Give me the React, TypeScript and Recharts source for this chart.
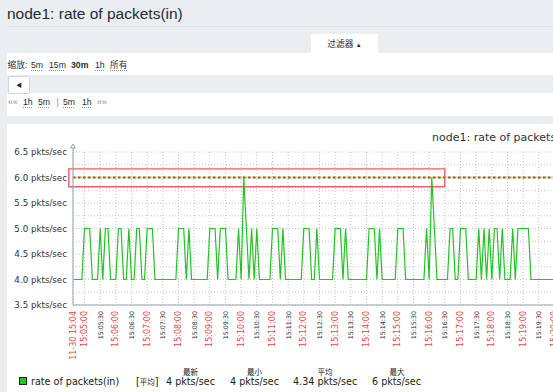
import React from 'react';
import { LineChart, Line, XAxis, YAxis, CartesianGrid, ReferenceLine, ReferenceArea, ReferenceDot } from 'recharts';

const toSec = (hms: string) => {
    const [h, m, s] = hms.split(':').map(Number);
    return h * 3600 + m * 60 + s;
};
const pad = (n: number) => String(n).padStart(2, '0');
const toHms = (sec: number) => `${pad(Math.floor(sec / 3600))}:${pad(Math.floor(sec / 60) % 60)}:${pad(sec % 60)}`;

// item is polled every 5 seconds
const SAMPLE_START = '15:04:40';
const SAMPLE_STEP = 5;

// rate of packets(in), pkts/sec
const PACKETS_IN = [
    4, 4, 4, 4, 5, 5, 5, 4, 4, 4,
    5, 4, 5, 5, 4, 4, 4, 5, 5, 4,
    4, 5, 4, 4, 5, 5, 4, 4, 5, 5,
    5, 4, 4, 4, 4, 4, 4, 4, 4, 4,
    5, 5, 5, 4, 5, 4, 4, 4, 4, 4,
    4, 4, 5, 5, 5, 4, 5, 5, 5, 4,
    4, 4, 4, 5, 4, 6, 5, 4, 5, 4,
    5, 4, 4, 4, 4, 4, 5, 5, 5, 4,
    5, 4, 4, 4, 4, 4, 4, 4, 5, 5,
    5, 4, 4, 5, 4, 4, 4, 4, 4, 4,
    5, 5, 5, 4, 5, 4, 4, 4, 4, 4,
    4, 4, 4, 5, 5, 5, 4, 5, 4, 4,
    4, 4, 4, 4, 5, 5, 5, 4, 4, 4,
    4, 4, 4, 4, 4, 5, 4, 6, 5, 4,
    4, 4, 4, 4, 5, 5, 4, 4, 5, 5,
    5, 4, 4, 4, 4, 5, 4, 5, 4, 5,
    4, 5, 5, 4, 5, 4, 4, 4, 5, 4,
    5, 5, 5, 5, 5, 4, 4, 4, 4, 4,
    4, 4, 4, 4, 4, 4,
];

const X_START = '15:04:38';
const X_END = '15:21:38';
const X_FIRST_LABEL = '11-30 15:04';
const X_TICKS = [
    '15:04:38',
    '15:05:00', '15:05:30', '15:06:00', '15:06:30', '15:07:00', '15:07:30',
    '15:08:00', '15:08:30', '15:09:00', '15:09:30', '15:10:00', '15:10:30',
    '15:11:00', '15:11:30', '15:12:00', '15:12:30', '15:13:00', '15:13:30',
    '15:14:00', '15:14:30', '15:15:00', '15:15:30', '15:16:00', '15:16:30',
    '15:17:00', '15:17:30', '15:18:00', '15:18:30', '15:19:00', '15:19:30',
    '15:20:00', '15:20:30', '15:21:00', '15:21:30',
];

const Y_TICKS = [3.5, 3.75, 4, 4.25, 4.5, 4.75, 5, 5.25, 5.5, 5.75, 6, 6.25, 6.5];
const Y_UNIT = 'pkts/sec';

const TRIGGER_VALUE = 6;
// hand-drawn red box around the trigger line
const MARK_X = ['15:04:30', '15:16:30'];
const MARK_Y = [5.82, 6.17];

const TITLE = 'node1: rate of packets(in)';
const ITEM_NAME = 'rate of packets(in)';
const ITEM_FUNC = '[平均]';
const STAT_HEADS = ['最新', '最小', '平均', '最大'];
const STAT_VALUES = ['4 pkts/sec', '4 pkts/sec', '4.34 pkts/sec', '6 pkts/sec'];

const data = PACKETS_IN.map((v, i) => ({ t: toSec(SAMPLE_START) + i * SAMPLE_STEP, v }));

const AXIS = '#9aa3ab';
const GRID = '#bfc7ce';
const RED = '#e8473f';
const CHART_FONT = '"DejaVu Sans", sans-serif';

const TimeTick = ({ x, y, payload }: any) => {
    const sec = payload.value;
    const first = sec === toSec(X_START);
    const major = first || sec % 60 === 0;
    return (
        <text
            x={x}
            y={y}
            transform={`rotate(-90 ${x} ${y})`}
            textAnchor="end"
            dominantBaseline="central"
            fontSize={major ? 8 : 6.3}
            fill={major ? RED : '#2a2a2a'}
            fontFamily={CHART_FONT}
        >
            {first ? X_FIRST_LABEL : toHms(sec)}
        </text>
    );
};

const ValueTick = ({ x, y, payload }: any) => {
    const v = payload.value;
    // quarter lines only get a grid line
    if (Math.round(v * 2) !== v * 2) return <g />;
    return (
        <text x={x} y={y} textAnchor="end" dominantBaseline="central" fontSize={8.7} fill="#333" fontFamily={CHART_FONT}>
            {`${v.toFixed(1)} ${Y_UNIT}`}
        </text>
    );
};

const AxisArrow = ({ cx, cy }: any) => (
    <g>
        <line x1={cx} y1={cy} x2={cx} y2={cy - 6} stroke={AXIS} />
        <path d={`M${cx - 2.5},${cy - 4} L${cx},${cy - 8} L${cx + 2.5},${cy - 4} Z`} fill="#fff" stroke={AXIS} />
    </g>
);

const Lnk = ({ x, children, bold, plain }: any) => (
    <span
        style={{
            position: 'absolute',
            left: x,
            fontWeight: bold ? 'bold' : 'normal',
            textDecoration: plain || bold ? 'none' : 'underline dotted #8a96a0',
            textUnderlineOffset: 2,
        }}
    >
        {children}
    </span>
);

const Row = ({ cy, children }: any) => (
    <div style={{ position: 'absolute', left: 0, top: cy - 6, height: 12, lineHeight: '12px', fontSize: 8.7, width: 553 }}>
        {children}
    </div>
);

const STAT_X = [166, 230, 293, 372];
const STAT_CENTER = [190.5, 254.5, 325, 397];

const App: React.FC = () => {
    return (
        <div
            style={{
                position: 'fixed',
                left: 0,
                top: 0,
                width: 553,
                height: 392,
                overflow: 'hidden',
                background: '#ebeef1',
                color: '#1f2c33',
                fontFamily: '"Liberation Sans", Arial, "Noto Sans CJK SC", sans-serif',
            }}
        >
            <div style={{ position: 'absolute', left: 7, top: 6, fontSize: 15.5, lineHeight: '15.5px', whiteSpace: 'nowrap' }}>{TITLE}</div>
            <div style={{ position: 'absolute', left: 7, top: 26, width: 546, height: 1, background: '#dde2e6' }} />

            <div style={{ position: 'absolute', left: 311, top: 34, width: 67, height: 20, background: '#fff', fontSize: 8.7, lineHeight: '20px', textAlign: 'center' }}>
                过滤器 <span style={{ fontSize: 6 }}>▲</span>
            </div>
            <div style={{ position: 'absolute', left: 7, top: 53, width: 546, height: 63, background: '#fff' }} />
            <Row cy={64.5}>
                <Lnk x={7.5} plain>缩放:</Lnk>
                <Lnk x={31}>5m</Lnk>
                <Lnk x={49}>15m</Lnk>
                <Lnk x={71} bold>30m</Lnk>
                <Lnk x={95}>1h</Lnk>
                <Lnk x={110}>所有</Lnk>
            </Row>
            <div style={{ position: 'absolute', left: 7, top: 75, width: 546, height: 18, background: '#ebeef1' }} />
            <div
                style={{
                    position: 'absolute',
                    left: 8,
                    top: 75.5,
                    width: 20,
                    height: 16,
                    background: '#fff',
                    border: '1px solid #cfd6db',
                    borderRadius: 2,
                    fontSize: 6,
                    lineHeight: '16px',
                    textAlign: 'center',
                }}
            >
                ◀
            </div>
            <Row cy={101.5}>
                <Lnk x={8} plain><span style={{ color: '#7a8c96' }}>««</span></Lnk>
                <Lnk x={23}>1h</Lnk>
                <Lnk x={38}>5m</Lnk>
                <Lnk x={56.5} plain><span style={{ color: '#a57bc2' }}>|</span></Lnk>
                <Lnk x={63}>5m</Lnk>
                <Lnk x={82}>1h</Lnk>
                <Lnk x={97} plain><span style={{ color: '#7a8c96' }}>»»</span></Lnk>
            </Row>

            <div style={{ position: 'absolute', left: 7, top: 124, width: 546, height: 268, background: '#fff' }} />
            <div style={{ position: 'absolute', left: 0, top: 124 }}>
                <LineChart width={620} height={268} data={data} margin={{ top: 28, right: 14.33, bottom: 27, left: 7 }}>
                    <CartesianGrid stroke={GRID} strokeDasharray="1 2" />
                    <XAxis
                        dataKey="t"
                        type="number"
                        domain={[toSec(X_START), toSec(X_END)]}
                        ticks={X_TICKS.map(toSec)}
                        interval={0}
                        height={60}
                        tickSize={4}
                        tickMargin={2}
                        tickLine={false}
                        stroke={AXIS}
                        tick={<TimeTick />}
                        allowDataOverflow
                    />
                    <YAxis
                        type="number"
                        domain={[3.5, 6.5]}
                        ticks={Y_TICKS}
                        interval={0}
                        width={66}
                        tickSize={4}
                        tickMargin={2}
                        tickLine={false}
                        stroke={AXIS}
                        tick={<ValueTick />}
                        allowDataOverflow
                    />
                    <ReferenceArea
                        x1={toSec(MARK_X[0])}
                        x2={toSec(MARK_X[1])}
                        y1={MARK_Y[0]}
                        y2={MARK_Y[1]}
                        fill="none"
                        fillOpacity={0}
                        stroke="#e86060"
                        strokeWidth={1.4}
                        ifOverflow="visible"
                    />
                    <ReferenceLine y={TRIGGER_VALUE} stroke="#f9cf80" strokeWidth={2} />
                    <ReferenceLine y={TRIGGER_VALUE} stroke="#6a6a6a" strokeWidth={2} strokeDasharray="2.5 2.5" />
                    <ReferenceDot x={toSec(X_START)} y={6.5} ifOverflow="visible" shape={<AxisArrow />} />
                    <Line type="linear" dataKey="v" stroke="#22c422" strokeWidth={1.2} dot={false} isAnimationActive={false} />
                </LineChart>
            </div>

            <svg width={553} height={392} style={{ position: 'absolute', left: 0, top: 0, pointerEvents: 'none' }} fontFamily={CHART_FONT}>
                <text x={432} y={141} fontSize={11} fill="#333">{TITLE}</text>
                <rect x={19.5} y={377.5} width={7} height={7} fill="#1ec81e" stroke="#222" strokeWidth={1} />
                <text x={31} y={385} fontSize={9.6} fill="#222">{ITEM_NAME}</text>
                <text x={136} y={385} fontSize={9.6} fill="#222">
                    <tspan>[</tspan>
                    <tspan fontSize={7.5} fontFamily='"Noto Sans CJK SC"'>{ITEM_FUNC.slice(1, -1)}</tspan>
                    <tspan>]</tspan>
                </text>
                {STAT_VALUES.map((s, i) => (
                    <text key={s + i} x={STAT_X[i]} y={385} fontSize={9.6} fill="#222">{s}</text>
                ))}
                {STAT_HEADS.map((h, i) => (
                    <text key={h} x={STAT_CENTER[i]} y={375} fontSize={7.5} textAnchor="middle" fill="#222" fontFamily='"Noto Sans CJK SC"'>{h}</text>
                ))}
            </svg>
        </div>
    );
};

export default App;
